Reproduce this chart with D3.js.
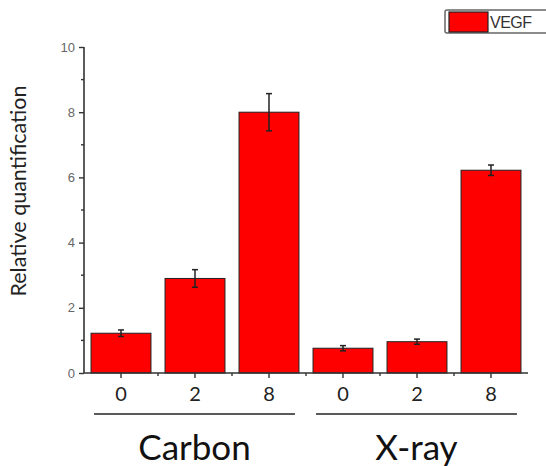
<!DOCTYPE html>
<html>
<head>
<meta charset="utf-8">
<script src="https://cdn.jsdelivr.net/npm/d3@7"></script>
<style>
  body { margin: 0; background: #fff; }
</style>
</head>
<body>
<svg id="chart" width="546" height="466"></svg>
<script>
// data
var groups = ["Carbon", "X-ray"];
var doses = ["0", "2", "8", "0", "2", "8"];
var groupOf = ["Carbon", "Carbon", "Carbon", "X-ray", "X-ray", "X-ray"];
var values = [1.22, 2.9, 8.0, 0.76, 0.96, 6.22];
var errors = [0.1, 0.27, 0.57, 0.08, 0.08, 0.16];
var yTicks = [0, 2, 4, 6, 8, 10];
var seriesName = "VEGF";

var svg = d3.select("#chart"),
    width = +svg.attr("width"),
    height = +svg.attr("height");

var margin = {top: 47, left: 84, right: 18, bottom: 93};

var x = d3.scaleBand()
  .domain(d3.range(doses.length))
  .range([margin.left, width - margin.right])
  .paddingInner(0.19)
  .paddingOuter(0.095);

var y = d3.scaleLinear()
  .domain([0, 10])
  .range([height - margin.bottom, margin.top]);

var y0 = y(0);

// bars
svg.selectAll(".bar")
  .data(values)
  .enter().append("rect")
  .attr("class", "bar")
  .attr("x", function(d, i) { return x(i); })
  .attr("y", function(d) { return y(d); })
  .attr("width", x.bandwidth())
  .attr("height", function(d) { return y0 - y(d); })
  .attr("fill", "#ff0000")
  .attr("stroke", "#222")
  .attr("stroke-width", 1);

// error bars
var err = svg.selectAll(".err")
  .data(values)
  .enter().append("g")
  .attr("class", "err")
  .attr("stroke", "#222")
  .attr("stroke-width", 1.5);

err.append("line")
  .attr("x1", function(d, i) { return x(i) + x.bandwidth() / 2; })
  .attr("x2", function(d, i) { return x(i) + x.bandwidth() / 2; })
  .attr("y1", function(d, i) { return y(d - errors[i]); })
  .attr("y2", function(d, i) { return y(d + errors[i]); });

err.append("line")
  .attr("x1", function(d, i) { return x(i) + x.bandwidth() / 2 - 3; })
  .attr("x2", function(d, i) { return x(i) + x.bandwidth() / 2 + 3; })
  .attr("y1", function(d, i) { return y(d + errors[i]); })
  .attr("y2", function(d, i) { return y(d + errors[i]); });

err.append("line")
  .attr("x1", function(d, i) { return x(i) + x.bandwidth() / 2 - 3; })
  .attr("x2", function(d, i) { return x(i) + x.bandwidth() / 2 + 3; })
  .attr("y1", function(d, i) { return y(d - errors[i]); })
  .attr("y2", function(d, i) { return y(d - errors[i]); });

// y axis
var yAxis = svg.append("g")
  .attr("transform", "translate(" + margin.left + ",0)")
  .call(d3.axisLeft(y).tickValues(yTicks).tickSize(5).tickPadding(4).tickFormat(d3.format("d")));
yAxis.select(".domain").attr("stroke", "#333").attr("stroke-width", 1.6).attr("d", "M0," + y(10) + "V" + y0);
yAxis.selectAll(".tick line").attr("stroke", "#333").attr("stroke-width", 1.4);
yAxis.selectAll(".tick text")
  .attr("font-family", "Liberation Sans, Arial, sans-serif")
  .attr("font-size", 13)
  .attr("fill", "#666");

// minor y ticks
svg.append("g").selectAll("line")
  .data([1, 3, 5, 7, 9])
  .enter().append("line")
  .attr("x1", margin.left - 3).attr("x2", margin.left)
  .attr("y1", function(d) { return y(d); }).attr("y2", function(d) { return y(d); })
  .attr("stroke", "#333").attr("stroke-width", 1.4);

// x axis
var xg = svg.append("g").attr("transform", "translate(0," + y0 + ")");
xg.append("line")
  .attr("x1", margin.left).attr("x2", width - margin.right)
  .attr("stroke", "#333").attr("stroke-width", 1.6);
xg.selectAll(".maj")
  .data(doses)
  .enter().append("line")
  .attr("x1", function(d, i) { return x(i) + x.bandwidth() / 2; })
  .attr("x2", function(d, i) { return x(i) + x.bandwidth() / 2; })
  .attr("y1", 0).attr("y2", 5)
  .attr("stroke", "#333").attr("stroke-width", 1.4);
xg.selectAll(".minor")
  .data(d3.range(1, doses.length))
  .enter().append("line")
  .attr("x1", function(d) { return x(d) - x.step() * x.paddingInner() / 2; })
  .attr("x2", function(d) { return x(d) - x.step() * x.paddingInner() / 2; })
  .attr("y1", 0).attr("y2", 3)
  .attr("stroke", "#333").attr("stroke-width", 1.4);

xg.selectAll(".lab")
  .data(doses)
  .enter().append("text")
  .attr("x", function(d, i) { return x(i) + x.bandwidth() / 2; })
  .attr("y", 28)
  .attr("text-anchor", "middle")
  .attr("font-family", "Lato, sans-serif")
  .attr("font-size", 20)
  .attr("fill", "#222")
  .text(function(d) { return d; });

// group lines and names
groups.forEach(function(g) {
  var idx = d3.range(doses.length).filter(function(i) { return groupOf[i] === g; });
  var x1 = x(idx[0]) + 3, x2 = x(idx[idx.length - 1]) + x.bandwidth() - 4;
  svg.append("line")
    .attr("x1", x1).attr("x2", x2)
    .attr("y1", y0 + 41).attr("y2", y0 + 41)
    .attr("stroke", "#222").attr("stroke-width", 1.6);
  svg.append("text")
    .attr("x", (x1 + x2) / 2)
    .attr("y", y0 + 87)
    .attr("text-anchor", "middle")
    .attr("font-family", "Lato, sans-serif")
    .attr("font-size", 35)
    .attr("fill", "#111")
    .text(g);
});

// y title
svg.append("text")
  .attr("transform", "translate(26,191) rotate(-90)")
  .attr("text-anchor", "middle")
  .attr("font-family", "Lato, sans-serif")
  .attr("font-size", 21.5)
  .attr("fill", "#222")
  .text("Relative quantification");

// legend
var lg = svg.append("g").attr("transform", "translate(445,10)");
lg.append("rect")
  .attr("x", 0).attr("y", 0).attr("width", 120).attr("height", 23)
  .attr("rx", 2)
  .attr("fill", "#fff").attr("stroke", "#666").attr("stroke-width", 1.5);
lg.append("rect")
  .attr("x", 4).attr("y", 2).attr("width", 39).attr("height", 20)
  .attr("fill", "#ff0000").attr("stroke", "#222").attr("stroke-width", 1.2);
lg.append("text")
  .attr("x", 45).attr("y", 18)
  .attr("font-family", "Liberation Sans, Arial, sans-serif")
  .attr("font-size", 16)
  .attr("letter-spacing", -0.5)
  .attr("fill", "#333")
  .text(seriesName);
</script>
</body>
</html>
